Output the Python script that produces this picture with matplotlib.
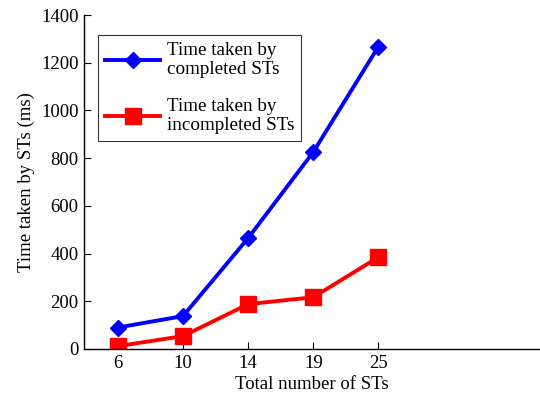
import matplotlib
matplotlib.use("Agg")
import matplotlib.pyplot as plt

plt.rcParams["font.family"] = ["Liberation Serif", "DejaVu Serif"]

st_counts = ["6", "10", "14", "19", "25"]
completed_ms = [90, 138, 465, 826, 1268]
incompleted_ms = [12, 54, 188, 217, 385]

x = list(range(1, len(st_counts) + 1))

fig = plt.figure(figsize=(5.4, 3.96), dpi=100)
ax = fig.add_axes([0.1556, 0.1187, 0.8444, 0.8433])

ax.plot(x, completed_ms, color="#0000ff", lw=2.8, marker="D", ms=8.5,
        label="Time taken by\ncompleted STs")
ax.plot(x, incompleted_ms, color="#ff0000", lw=2.8, marker="s", ms=12,
        label="Time taken by\nincompleted STs")

ax.set_xlim(0.48, 7.48)
ax.set_ylim(0, 1400)
ax.set_xticks(x)
ax.set_xticklabels(st_counts)
ax.set_yticks(range(0, 1401, 200))

for side in ("top", "right"):
    ax.spines[side].set_visible(False)
for side in ("left", "bottom"):
    ax.spines[side].set_linewidth(1.0)
ax.tick_params(direction="in", length=5, labelsize=13.5, pad=4)

ax.set_xlabel("Total number of STs", fontsize=13.5, labelpad=3)
ax.set_ylabel("Time taken by STs (ms)", fontsize=13.5, labelpad=4)

leg = ax.legend(loc="upper left", bbox_to_anchor=(0.031, 0.94), borderaxespad=0,
                fontsize=13.8, frameon=True, fancybox=False, handlelength=2.9,
                labelspacing=1.0, borderpad=0.35, handletextpad=0.35)
leg.get_frame().set_edgecolor("black")
leg.get_frame().set_linewidth(0.8)

fig.savefig("out.png", dpi=100)
